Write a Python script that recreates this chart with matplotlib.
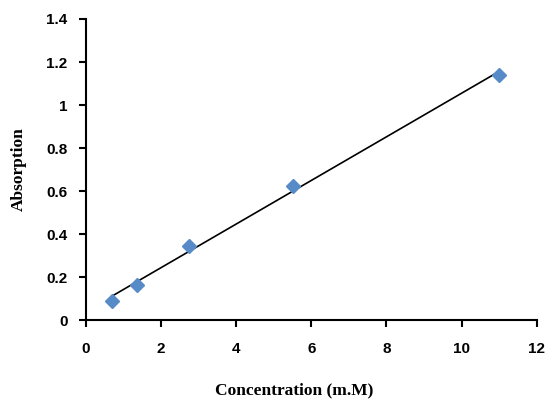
import numpy as np
import matplotlib.pyplot as plt

# data
concentration = [0.6875, 1.375, 2.75, 5.5, 11.0]   # mM
absorption = [0.09, 0.165, 0.345, 0.625, 1.14]

x_ticks = [0, 2, 4, 6, 8, 10, 12]
y_ticks = [0, 0.2, 0.4, 0.6, 0.8, 1.0, 1.2, 1.4]
y_tick_labels = ["0", "0.2", "0.4", "0.6", "0.8", "1", "1.2", "1.4"]

MARKER_COLOR = "#578BC8"
TICK_FONT = {"family": "Liberation Sans", "weight": "bold", "size": 11}
LABEL_FONT = {"family": "Liberation Serif", "weight": "bold", "size": 12.5}


def main():
    fig = plt.figure(figsize=(5.5, 4.13), dpi=100)
    ax = fig.add_axes([0.156, 0.225, 0.82, 0.729])

    # linear trendline (least squares, like Excel)
    slope, intercept = np.polyfit(concentration, absorption, 1)
    xs = np.array([min(concentration), max(concentration)])
    ax.plot(xs, slope * xs + intercept, color="black", linewidth=1.2, zorder=2)

    ax.plot(concentration, absorption, linestyle="None", marker="D",
            markersize=7, markeredgewidth=1, color=MARKER_COLOR, zorder=3)

    ax.set_xlim(0, 12)
    ax.set_ylim(0, 1.4)
    ax.set_xticks(x_ticks)
    ax.set_yticks(y_ticks)
    ax.set_xticklabels([str(t) for t in x_ticks], fontdict=TICK_FONT)
    ax.set_yticklabels(y_tick_labels, fontdict=TICK_FONT)

    for side in ["top", "right"]:
        ax.spines[side].set_visible(False)
    for side in ["left", "bottom"]:
        ax.spines[side].set_linewidth(1.5)
    ax.tick_params(direction="out", length=5, width=1.5, pad=8)
    ax.tick_params(axis="x", pad=11)

    ax.set_xlabel("Concentration (m.M)", fontdict=LABEL_FONT, labelpad=19)
    ax.set_ylabel("Absorption", fontdict=LABEL_FONT, labelpad=14)
    ax.xaxis.label.set_x(0.461)

    fig.savefig("out.png", dpi=100)


if __name__ == "__main__":
    main()
